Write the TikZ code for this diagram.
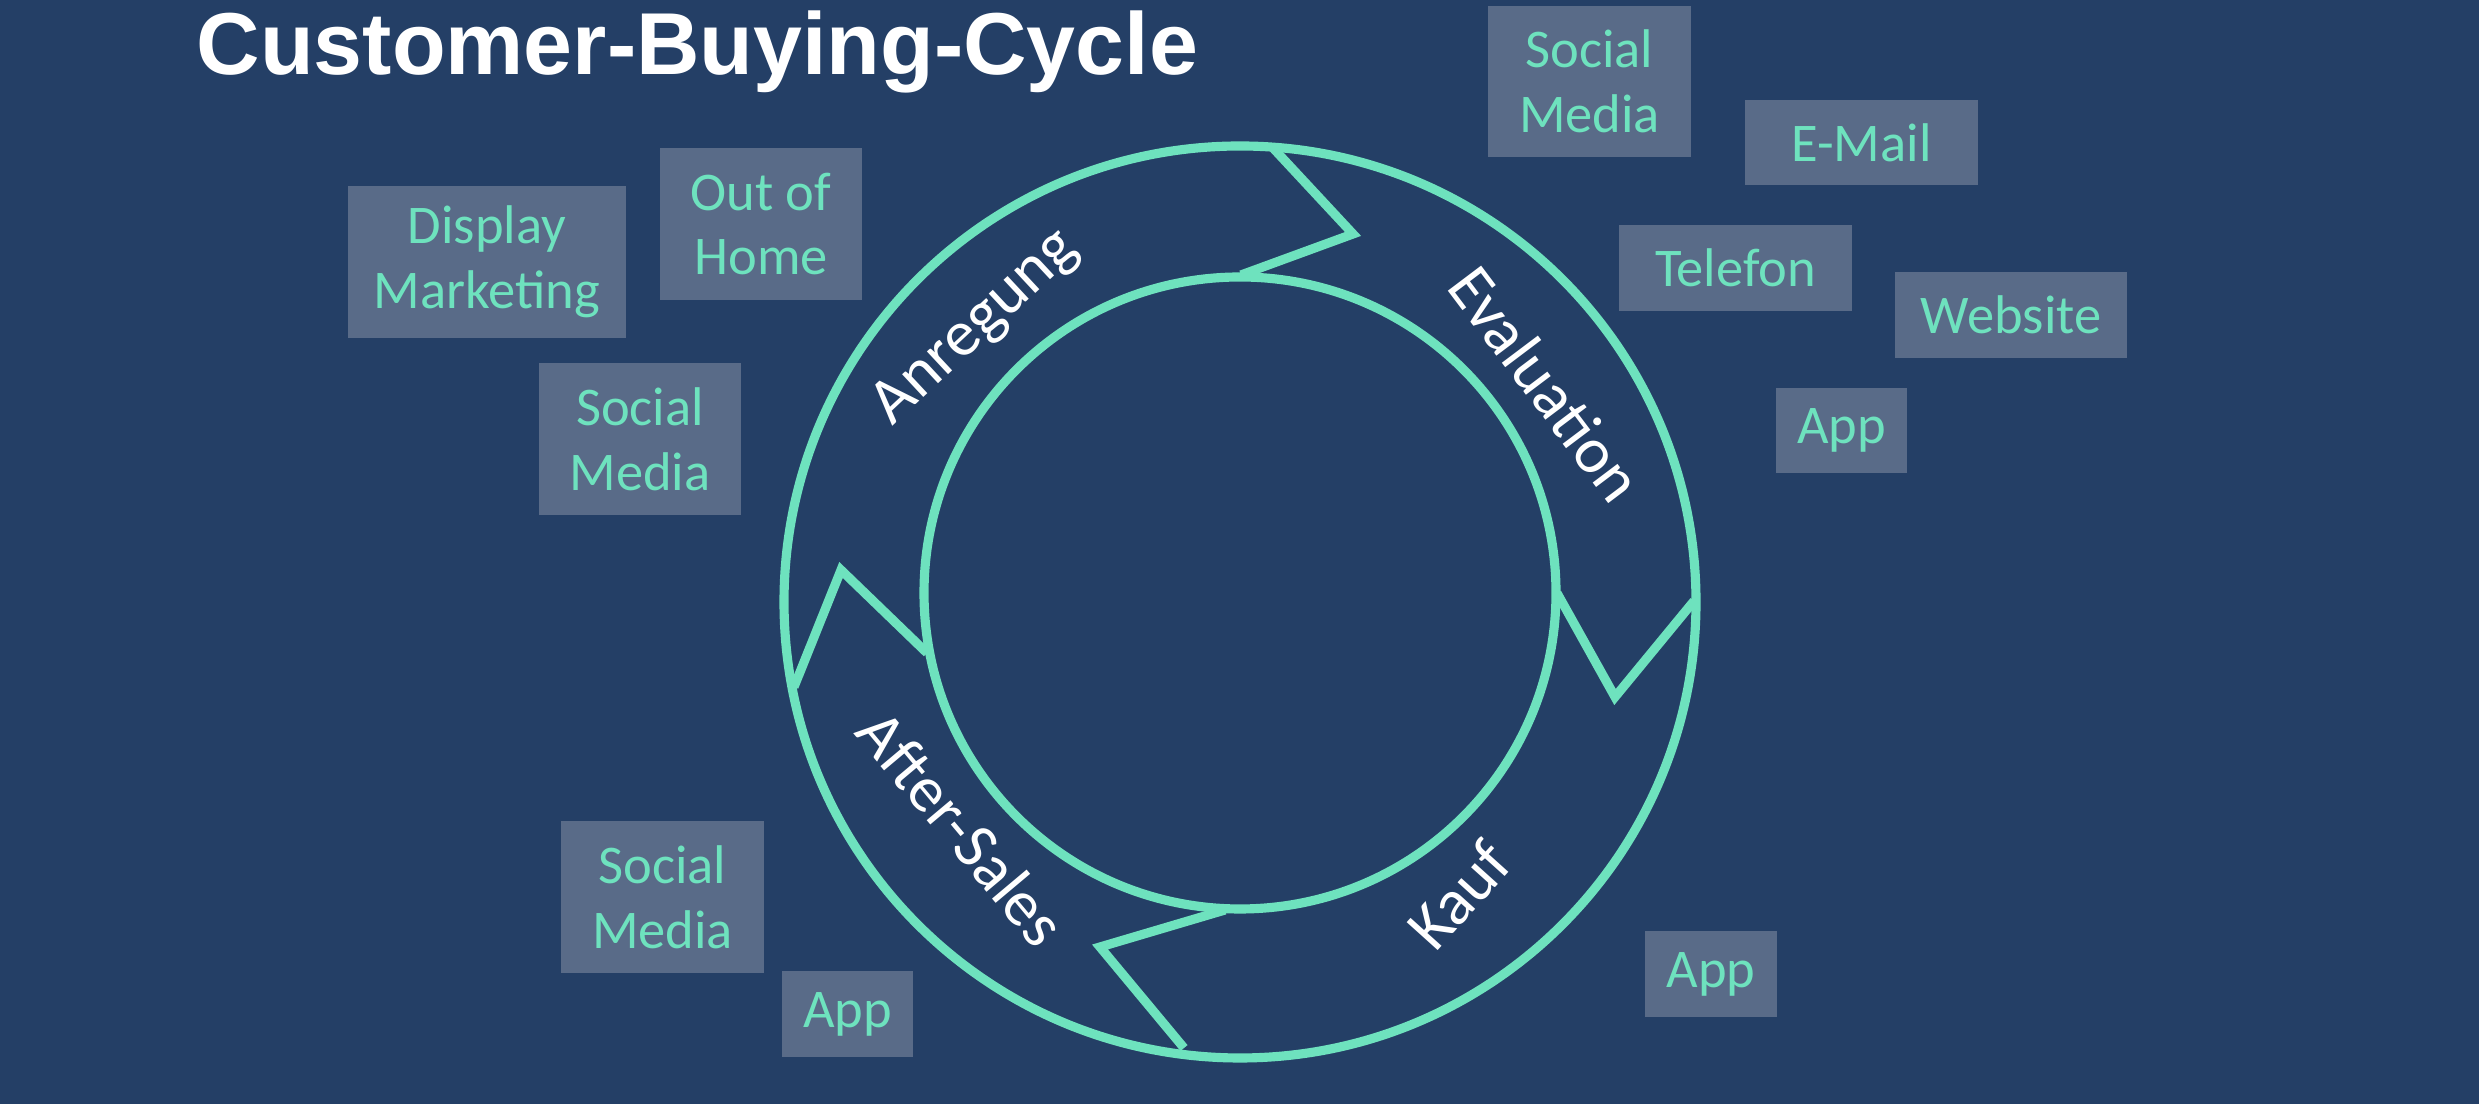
\documentclass[tikz,border=0pt]{standalone}
\usepackage{fontspec}
\setmainfont{Carlito}
\newfontfamily\titlefont{Liberation Sans}
\definecolor{bgblue}{RGB}{36,63,102}
\definecolor{boxgrey}{RGB}{89,107,136}
\definecolor{mint}{RGB}{110,226,190}
\begin{document}
\begin{tikzpicture}[x=0.01cm,y=0.01cm,
    ring/.style={draw=mint,line width=2.6pt,line join=miter},
    channel/.style={fill=boxgrey,text=mint,inner sep=0pt,align=center,
        font=\fontsize{15.5}{18.4}\selectfont},
    phase/.style={text=white,inner sep=0pt,font=\fontsize{18.5}{22}\selectfont}]
        %% Background
        \fill[bgblue] (0,0) rectangle (2479,1104);
        \useasboundingbox (0,0) rectangle (2479,1104);
        \node[anchor=base west,text=white,inner sep=0pt,font=\titlefont\bfseries\fontsize{25}{30}\selectfont] (title) at (196,1029) {Customer-Buying-Cycle};
        %% Cycle
        \coordinate (co) at (1240,502);
        \coordinate (ci) at (1240,511);
        \draw[ring] (co) circle (456);
        \draw[ring] (ci) circle (316);
        \draw[ring] (1273,956) -- (1353,870) -- (1241,829);
        \draw[ring] (1694,503) -- (1615,407) -- (1557,511);
        \draw[ring] (1184,56) -- (1100,157) -- (1225,194);
        \draw[ring] (794,417) -- (841,534) -- (927,451);
        %% Phases
        \node[phase,rotate=43] (anregung) at (976,776) {Anregung};
        \node[phase,rotate=-53] (evaluation) at (1546,720) {Evaluation};
        \node[phase,rotate=48] (kauf) at (1459,209) {Kauf};
        \node[phase,rotate=-50] (aftersales) at (962,276) {After-Sales};
        %% Channels
        \node[channel,minimum width=2.78cm,minimum height=1.52cm] (display) at (487,842) {Display\\Marketing};
        \node[channel,minimum width=2.02cm,minimum height=1.52cm] (ooh) at (761,880) {Out of\\Home};
        \node[channel,minimum width=2.02cm,minimum height=1.52cm] (socialA) at (640,665) {Social\\Media};
        \node[channel,minimum width=2.03cm,minimum height=1.51cm] (socialE) at (1589.5,1022.5) {Social\\Media};
        \node[channel,minimum width=2.33cm,minimum height=0.85cm] (email) at (1861.5,961.5) {E-Mail};
        \node[channel,minimum width=2.33cm,minimum height=0.86cm] (telefon) at (1735.5,836) {Telefon};
        \node[channel,minimum width=2.32cm,minimum height=0.86cm] (website) at (2011,789) {Website};
        \node[channel,minimum width=1.31cm,minimum height=0.85cm] (appE) at (1841.5,673.5) {App};
        \node[channel,minimum width=1.32cm,minimum height=0.86cm] (appK) at (1711,130) {App};
        \node[channel,minimum width=2.03cm,minimum height=1.52cm] (socialS) at (662.5,207) {Social\\Media};
        \node[channel,minimum width=1.31cm,minimum height=0.86cm] (appS) at (847.5,90) {App};
    \end{tikzpicture}
\end{document}
